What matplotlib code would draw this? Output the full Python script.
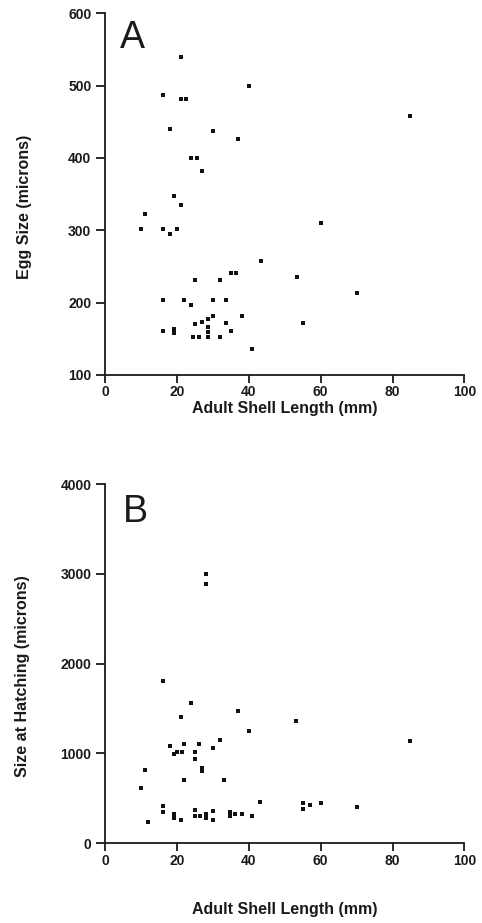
import matplotlib
matplotlib.use("Agg")
import matplotlib.pyplot as plt

plt.rcParams['font.family'] = ['Liberation Sans', 'DejaVu Sans']

# Panel A: Adult shell length (mm) vs egg size (microns)
a_length = [21, 40, 16, 21, 22.5, 18, 30, 37, 24, 25.5, 27, 19, 21, 11, 10, 16, 18, 20,
            43.5, 35, 36.5, 25, 32, 16, 22, 24, 30, 33.5, 38, 30, 28.5, 27, 25, 28.5,
            33.5, 16, 19, 19, 35, 24.5, 26, 28.5, 28.5, 32, 41, 85, 60, 53.5, 70, 55]
a_egg = [540, 500, 487, 481, 481, 440, 437, 426, 400, 400, 382, 347, 335, 322, 302, 302,
         295, 302, 257, 241, 241, 231, 231, 203, 203, 197, 203, 203, 181, 181, 178, 173,
         170, 167, 172, 161, 163, 158, 161, 153, 153, 159, 153, 153, 136, 458, 310, 235,
         213, 172]

# Panel B: Adult shell length (mm) vs size at hatching (microns)
b_length = [28, 28, 16, 24, 37, 53, 21, 40, 32, 18, 22, 26, 30, 19, 20, 21.5, 25, 25,
            27, 27, 11, 22, 33, 10, 43, 16, 16, 19, 19, 12, 21, 25, 25, 26.5, 28, 28,
            30, 30, 34.8, 34.8, 36, 38, 41, 85, 55, 55, 57, 60, 70]
b_hatch = [3000, 2890, 1810, 1565, 1470, 1360, 1410, 1250, 1145, 1080, 1100, 1100, 1058,
           990, 1017, 1017, 1017, 942, 840, 800, 816, 700, 700, 620, 456, 415, 352, 323,
           278, 240, 260, 370, 304, 304, 323, 278, 363, 259, 345, 300, 326, 323, 300,
           1135, 452, 385, 430, 452, 408]

W, H = 482, 923
fig = plt.figure(figsize=(W / 100, H / 100), dpi=100)

INK = '#1a1a1a'

def style(ax):
    for s in ['top', 'right']:
        ax.spines[s].set_visible(False)
    for s in ['left', 'bottom']:
        ax.spines[s].set_linewidth(1.3)
        ax.spines[s].set_color(INK)
    ax.tick_params(axis='y', direction='out', length=6.5, width=1.3, colors=INK,
                   labelsize=10, pad=3.5)
    ax.tick_params(axis='x', direction='out', length=5.5, width=1.3, colors=INK,
                   labelsize=10, pad=2)
    for lab in ax.get_xticklabels() + ax.get_yticklabels():
        lab.set_fontweight('bold')

axA = fig.add_axes([105.3 / W, 1 - 375 / H, 359 / W, 361.7 / H])
axA.plot(a_length, a_egg, 's', color='#111111', markersize=3.0, markeredgewidth=0)
axA.set_xlim(0, 100)
axA.set_ylim(100, 600)
axA.set_xticks([0, 20, 40, 60, 80, 100])
axA.set_yticks([100, 200, 300, 400, 500, 600])
style(axA)
axA.set_xlabel('Adult Shell Length (mm)', fontsize=11.5, fontweight='bold', color=INK)
axA.set_ylabel('Egg Size (microns)', fontsize=11.5, fontweight='bold', color=INK)
axA.xaxis.set_label_coords(0.5, -0.072)
axA.yaxis.set_label_coords(-0.203, 0.465)
axA.text(0.04, 0.905, 'A', transform=axA.transAxes, fontsize=27, color=INK,
         ha='left', va='baseline')

axB = fig.add_axes([105.3 / W, 1 - 843.3 / H, 359 / W, 359.3 / H])
axB.plot(b_length, b_hatch, 's', color='#111111', markersize=3.0, markeredgewidth=0)
axB.set_xlim(0, 100)
axB.set_ylim(0, 4000)
axB.set_xticks([0, 20, 40, 60, 80, 100])
axB.set_yticks([0, 1000, 2000, 3000, 4000])
style(axB)
axB.set_xlabel('Adult Shell Length (mm)', fontsize=11.5, fontweight='bold', color=INK)
axB.set_ylabel('Size at Hatching (microns)', fontsize=11.5, fontweight='bold', color=INK)
axB.xaxis.set_label_coords(0.5, -0.163)
axB.yaxis.set_label_coords(-0.21, 0.465)
axB.text(0.048, 0.893, 'B', transform=axB.transAxes, fontsize=27, color=INK,
         ha='left', va='baseline')

fig.savefig('out.png', dpi=100)
